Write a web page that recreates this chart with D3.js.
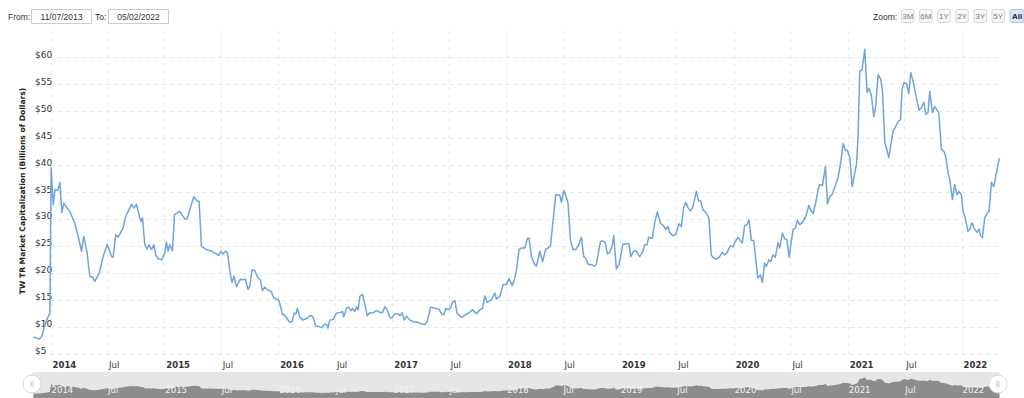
<!DOCTYPE html>
<html>
<head>
<meta charset="utf-8">
<script src="https://cdn.jsdelivr.net/npm/d3@7"></script>
<style>
  body { margin: 0; background: #fff; overflow: hidden; }
  .grid line { stroke: #e8e8e8; stroke-dasharray: 4,4; shape-rendering: crispEdges; }
  .ylab { font: 9px "DejaVu Sans", Verdana, sans-serif; fill: #333; }
  .xlab { font: 8.5px "DejaVu Sans", Verdana, sans-serif; fill: #333; }
  .xlab.year { font-weight: bold; }
  .ytitle { font: bold 7.6px "DejaVu Sans", Verdana, sans-serif; fill: #222; }
  .ui { font: 8.5px "Liberation Sans", Arial, sans-serif; fill: #333; }
  .navlab { font: 8.5px "DejaVu Sans", Verdana, sans-serif; fill: #f4f4f4; }
</style>
</head>
<body>
<div id="chart"></div>
<script>
// dates as decimal years
var dates = [
  2013.850, 2013.871, 2013.900, 2013.924, 2013.941, 2013.965, 2013.982, 2013.994,
  2014.005, 2014.023, 2014.040, 2014.064, 2014.082, 2014.099, 2014.117, 2014.146,
  2014.169, 2014.213, 2014.242, 2014.272, 2014.292, 2014.321, 2014.345, 2014.369,
  2014.389, 2014.427, 2014.462, 2014.497, 2014.536, 2014.550, 2014.573, 2014.594,
  2014.637, 2014.661, 2014.711, 2014.731, 2014.755, 2014.784, 2014.795, 2014.808,
  2014.828, 2014.848, 2014.866, 2014.887, 2014.907, 2014.924, 2014.945, 2014.975,
  2015.004, 2015.018, 2015.032, 2015.047, 2015.071, 2015.089, 2015.135, 2015.179,
  2015.199, 2015.258, 2015.291, 2015.305, 2015.326, 2015.370, 2015.399, 2015.414,
  2015.428, 2015.457, 2015.478, 2015.495, 2015.515, 2015.536, 2015.554, 2015.574,
  2015.594, 2015.612, 2015.633, 2015.668, 2015.691, 2015.712, 2015.735, 2015.750,
  2015.770, 2015.794, 2015.823, 2015.844, 2015.861, 2015.882, 2015.910, 2015.940,
  2015.960, 2015.989, 2016.007, 2016.037, 2016.057, 2016.077, 2016.101, 2016.125,
  2016.139, 2016.154, 2016.169, 2016.189, 2016.218, 2016.248, 2016.285, 2016.306,
  2016.329, 2016.358, 2016.379, 2016.408, 2016.428, 2016.437, 2016.452, 2016.481,
  2016.511, 2016.540, 2016.564, 2016.575, 2016.599, 2016.619, 2016.637, 2016.651,
  2016.672, 2016.687, 2016.701, 2016.716, 2016.739, 2016.759, 2016.780, 2016.803,
  2016.827, 2016.856, 2016.876, 2016.891, 2016.915, 2016.935, 2016.955, 2016.979,
  2016.999, 2017.023, 2017.052, 2017.067, 2017.087, 2017.105, 2017.126, 2017.155,
  2017.184, 2017.227, 2017.257, 2017.286, 2017.306, 2017.336, 2017.374, 2017.412,
  2017.433, 2017.453, 2017.471, 2017.491, 2017.512, 2017.529, 2017.550, 2017.570,
  2017.608, 2017.646, 2017.675, 2017.705, 2017.740, 2017.769, 2017.793, 2017.813,
  2017.833, 2017.872, 2017.901, 2017.916, 2017.945, 2017.974, 2018.003, 2018.026,
  2018.053, 2018.076, 2018.091, 2018.114, 2018.135, 2018.164, 2018.188, 2018.202,
  2018.223, 2018.252, 2018.267, 2018.296, 2018.320, 2018.349, 2018.369, 2018.390,
  2018.413, 2018.436, 2018.472, 2018.486, 2018.507, 2018.524, 2018.544, 2018.565,
  2018.588, 2018.612, 2018.638, 2018.662, 2018.682, 2018.700, 2018.720, 2018.750,
  2018.779, 2018.794, 2018.829, 2018.852, 2018.873, 2018.890, 2018.911, 2018.931,
  2018.946, 2018.969, 2018.992, 2019.027, 2019.057, 2019.080, 2019.095, 2019.121,
  2019.139, 2019.174, 2019.203, 2019.218, 2019.238, 2019.253, 2019.285, 2019.306,
  2019.329, 2019.356, 2019.385, 2019.402, 2019.422, 2019.437, 2019.466, 2019.490,
  2019.519, 2019.540, 2019.560, 2019.578, 2019.598, 2019.619, 2019.642, 2019.672,
  2019.692, 2019.709, 2019.730, 2019.759, 2019.782, 2019.803, 2019.824, 2019.847,
  2019.876, 2019.900, 2019.920, 2019.940, 2019.970, 2019.993, 2020.017, 2020.037,
  2020.075, 2020.096, 2020.116, 2020.134, 2020.155, 2020.175, 2020.212, 2020.234,
  2020.251, 2020.271, 2020.286, 2020.309, 2020.324, 2020.344, 2020.365, 2020.388,
  2020.403, 2020.427, 2020.447, 2020.467, 2020.485, 2020.520, 2020.541, 2020.558,
  2020.579, 2020.608, 2020.637, 2020.658, 2020.675, 2020.695, 2020.719, 2020.739,
  2020.754, 2020.778, 2020.804, 2020.822, 2020.842, 2020.862, 2020.886, 2020.915,
  2020.939, 2020.959, 2020.980, 2020.997, 2021.018, 2021.038, 2021.061, 2021.076,
  2021.090, 2021.105, 2021.125, 2021.149, 2021.169, 2021.187, 2021.208, 2021.228,
  2021.246, 2021.266, 2021.290, 2021.305, 2021.325, 2021.345, 2021.360, 2021.378,
  2021.398, 2021.421, 2021.442, 2021.463, 2021.477, 2021.494, 2021.516, 2021.536,
  2021.553, 2021.573, 2021.603, 2021.626, 2021.647, 2021.667, 2021.685, 2021.705,
  2021.720, 2021.744, 2021.764, 2021.779, 2021.799, 2021.823, 2021.843, 2021.860,
  2021.881, 2021.896, 2021.919, 2021.939, 2021.960, 2021.977, 2021.998, 2022.012,
  2022.027, 2022.056, 2022.071, 2022.091, 2022.112, 2022.136, 2022.153, 2022.168,
  2022.183, 2022.203, 2022.223, 2022.241, 2022.262, 2022.282, 2022.332
];

// market cap, billions of dollars
var capValues = [
  8.1, 7.9, 7.7, 8.2, 9.7, 11.2, 12.0, 12.5,
  39.5, 32.7, 35.5, 35.3, 36.8, 31.2, 32.9, 32.0,
  31.4, 29.2, 26.8, 24.0, 26.8, 23.7, 19.3, 19.2,
  18.4, 19.9, 23.0, 25.3, 23.0, 22.9, 27.1, 26.6,
  28.3, 30.5, 32.7, 32.0, 32.7, 30.2, 29.5, 30.2,
  25.2, 24.4, 25.2, 24.3, 25.2, 23.3, 22.6, 22.4,
  23.7, 25.7, 24.0, 25.2, 24.1, 30.8, 31.4, 30.0,
  30.0, 34.1, 33.3, 33.3, 24.9, 24.3, 24.1, 24.1,
  23.8, 23.5, 23.2, 24.0, 23.5, 24.0, 23.8, 20.5,
  18.2, 19.4, 17.4, 18.8, 18.7, 18.8, 16.9, 17.4,
  20.5, 20.4, 19.0, 18.7, 16.7, 17.3, 16.8, 16.5,
  15.3, 15.1, 14.9, 12.3, 12.1, 11.5, 10.8, 11.0,
  12.5, 12.3, 13.4, 11.8, 11.2, 11.5, 12.1, 11.7,
  10.1, 10.0, 9.8, 10.5, 10.3, 9.7, 11.2, 11.3,
  12.5, 12.6, 12.8, 11.8, 13.4, 13.6, 12.9, 13.4,
  12.8, 13.7, 13.1, 15.6, 16.0, 14.2, 12.0, 12.6,
  12.5, 12.9, 12.9, 12.6, 12.6, 13.7, 13.1, 11.7,
  11.6, 12.4, 12.4, 12.0, 12.6, 11.2, 11.9, 11.2,
  10.9, 10.8, 10.5, 10.4, 10.9, 13.6, 13.4, 13.2,
  12.3, 12.2, 13.4, 13.1, 13.5, 14.5, 14.8, 12.4,
  11.7, 12.2, 12.6, 13.1, 12.4, 13.1, 13.4, 15.7,
  14.5, 15.0, 16.2, 15.1, 15.6, 17.8, 17.8, 18.9,
  17.6, 19.0, 20.5, 24.3, 24.6, 24.6, 26.4, 26.4,
  23.0, 21.5, 21.2, 24.0, 22.1, 24.4, 24.6, 25.0,
  29.8, 34.5, 34.4, 33.1, 35.3, 34.3, 33.0, 26.1,
  24.3, 24.3, 25.2, 26.6, 23.0, 22.7, 21.6, 21.5,
  21.2, 21.7, 25.8, 25.9, 25.5, 23.5, 23.7, 24.9,
  26.9, 20.7, 21.5, 25.3, 25.4, 25.4, 23.0, 24.0,
  24.1, 23.0, 24.0, 25.2, 25.2, 26.6, 26.4, 29.3,
  31.3, 29.2, 28.7, 28.0, 28.6, 27.5, 26.9, 27.1,
  29.1, 28.6, 32.0, 33.1, 32.1, 31.5, 32.3, 35.1,
  33.3, 33.4, 31.7, 31.1, 30.2, 23.3, 22.7, 22.5,
  23.0, 23.8, 23.3, 23.7, 25.0, 24.8, 25.9, 26.6,
  25.5, 28.8, 28.9, 29.8, 26.0, 26.0, 19.0, 19.6,
  18.2, 21.8, 21.2, 22.4, 22.1, 23.3, 22.9, 25.6,
  24.6, 27.4, 26.3, 26.1, 22.9, 28.0, 28.3, 29.7,
  28.9, 29.5, 30.8, 32.5, 31.6, 31.0, 33.0, 35.4,
  36.4, 36.2, 39.8, 32.8, 34.2, 34.5, 35.9, 37.7,
  40.7, 44.0, 42.7, 42.7, 41.3, 36.0, 38.5, 40.1,
  45.3, 57.4, 57.7, 61.5, 53.5, 54.3, 52.8, 49.0,
  51.0, 56.8, 55.9, 53.7, 44.1, 42.7, 41.4, 43.8,
  46.3, 47.2, 48.1, 48.4, 54.2, 55.3, 55.1, 53.3,
  57.2, 55.6, 52.5, 50.2, 50.7, 51.7, 49.4, 49.8,
  53.7, 49.7, 50.9, 50.4, 49.7, 42.9, 42.6, 41.6,
  38.5, 37.3, 33.6, 36.4, 34.5, 35.1, 34.5, 31.4,
  30.6, 27.7, 28.0, 29.3, 28.2, 27.5, 28.1, 26.9,
  26.5, 30.2, 31.0, 31.4, 36.8, 36.0, 41.3
];

var yTicks = [5, 10, 15, 20, 25, 30, 35, 40, 45, 50, 55, 60];
var zoomLabels = ["3M", "6M", "1Y", "2Y", "3Y", "5Y", "All"];
var rangeFrom = "11/07/2013";
var rangeTo = "05/02/2022";
var yTitle = "TW TR Market Capitalization (Billions of Dollars)";

function yearToDate(t) {
  var yr = Math.floor(t),
      start = new Date(yr, 0, 1),
      end = new Date(yr + 1, 0, 1);
  return new Date(+start + (t - yr) * (end - start));
}

var data = dates.map(function(d, i) {
  return { date: yearToDate(d), value: capValues[i] };
});

var width = 1024, height = 398;
var plot = { left: 33.5, right: 999.4, top: 30.5, bottom: 353.5 };

var svg = d3.select("#chart").append("svg")
    .attr("width", width)
    .attr("height", height);

var x = d3.scaleTime()
    .domain(d3.extent(data, function(d) { return d.date; }))
    .range([plot.left, plot.right]);

var y = d3.scaleLinear()
    .domain([5, 65])
    .range([plot.bottom, plot.top]);

var ticksX = d3.timeMonth.every(6).range(x.domain()[0], x.domain()[1]);
function tickLabel(d) { return d.getMonth() === 0 ? d.getFullYear() : "Jul"; }

// gridlines
svg.append("g").attr("class", "grid")
  .selectAll("line").data(ticksX).enter().append("line")
    .attr("x1", function(d) { return Math.round(x(d)) + 0.5; })
    .attr("x2", function(d) { return Math.round(x(d)) + 0.5; })
    .attr("y1", plot.top)
    .attr("y2", plot.bottom);

svg.append("g").attr("class", "grid")
  .selectAll("line").data(yTicks).enter().append("line")
    .attr("x1", 50)
    .attr("x2", plot.right)
    .attr("y1", function(d) { return Math.round(y(d)) + 0.5; })
    .attr("y2", function(d) { return Math.round(y(d)) + 0.5; });

// y labels sit just above their gridline, inside the plot
svg.append("g")
  .selectAll("text").data(yTicks).enter().append("text")
    .attr("class", "ylab")
    .attr("x", 35)
    .attr("y", function(d) { return y(d) + 0.5; })
    .text(function(d) { return "$" + d; });

svg.append("text")
    .attr("class", "ytitle")
    .attr("transform", "translate(25," + 191 + ") rotate(-90)")
    .attr("text-anchor", "middle")
    .text(yTitle);

// x labels
svg.append("g")
  .selectAll("text").data(ticksX).enter().append("text")
    .attr("class", function(d) { return d.getMonth() === 0 ? "xlab year" : "xlab"; })
    .attr("x", function(d) { return x(d) + 2; })
    .attr("y", 367.5)
    .text(tickLabel);

// the line
var line = d3.line()
    .x(function(d) { return x(d.date); })
    .y(function(d) { return y(d.value); });

svg.append("path")
    .datum(data)
    .attr("fill", "none")
    .attr("stroke", "#6ea5dc")
    .attr("stroke-width", 1.5)
    .attr("stroke-linejoin", "round")
    .attr("d", line);

// navigator
var nav = svg.append("g");
var yNav = d3.scaleLinear()
    .domain(d3.extent(capValues))
    .range([393.5, 377.5]);

nav.append("rect")
    .attr("x", plot.left - 1)
    .attr("y", 372)
    .attr("width", plot.right - plot.left + 1)
    .attr("height", 30)
    .attr("fill", "#e6e6e6");

var navArea = d3.area()
    .x(function(d) { return x(d.date); })
    .y0(400)
    .y1(function(d) { return yNav(d.value); });

nav.append("path")
    .datum(data)
    .attr("fill", "#8c8c8c")
    .attr("d", navArea);

nav.selectAll("text.navlab").data(ticksX).enter().append("text")
    .attr("class", "navlab")
    .attr("x", function(d) { return x(d) + 1; })
    .attr("y", 392.5)
    .text(tickLabel);

[plot.left - 1.5, plot.right - 1.5].forEach(function(hx) {
  nav.append("circle")
      .attr("cx", hx).attr("cy", 384).attr("r", 9)
      .attr("fill", "#fff")
      .attr("stroke", "#d8d8d8");
  nav.append("path")
      .attr("d", "M" + (hx - 1) + ",380.5V387.5M" + (hx + 1) + ",380.5V387.5")
      .attr("stroke", "#bbb")
      .attr("stroke-width", 0.8);
});

// range inputs (top left)
var header = svg.append("g");
header.append("text").attr("class", "ui").attr("x", 8).attr("y", 19.5).text("From:");
header.append("rect").attr("x", 31.5).attr("y", 9.5).attr("width", 60).attr("height", 14)
    .attr("fill", "#fff").attr("stroke", "#ccc");
header.append("text").attr("class", "ui").attr("x", 61.5).attr("y", 19.5)
    .attr("text-anchor", "middle").text(rangeFrom);
header.append("text").attr("class", "ui").attr("x", 95).attr("y", 19.5).text("To:");
header.append("rect").attr("x", 108.5).attr("y", 9.5).attr("width", 60).attr("height", 14)
    .attr("fill", "#fff").attr("stroke", "#ccc");
header.append("text").attr("class", "ui").attr("x", 138.5).attr("y", 19.5)
    .attr("text-anchor", "middle").text(rangeTo);

// zoom buttons (top right)
header.append("text").attr("class", "ui").attr("x", 873).attr("y", 19.5).text("Zoom:");
var btn = header.selectAll("g.btn").data(zoomLabels).enter().append("g")
    .attr("transform", function(d, i) { return "translate(" + (901.5 + i * 18.1) + ",9.5)"; });
btn.append("rect")
    .attr("width", function(d) { return d === "All" ? 14 : 12.5; })
    .attr("height", 13)
    .attr("rx", 2)
    .attr("fill", function(d) { return d === "All" ? "#dde4f2" : "#f7f7f7"; })
    .attr("stroke", function(d) { return d === "All" ? "#b8c4dc" : "#d6d6d6"; });
btn.append("text")
    .attr("class", "ui")
    .attr("x", function(d) { return d === "All" ? 7 : 6.25; })
    .attr("y", 9.5)
    .attr("text-anchor", "middle")
    .style("font-size", "8px")
    .style("font-weight", function(d) { return d === "All" ? "bold" : null; })
    .style("fill", function(d) { return d === "All" ? "#223" : "#777"; })
    .text(function(d) { return d; });
</script>
</body>
</html>
